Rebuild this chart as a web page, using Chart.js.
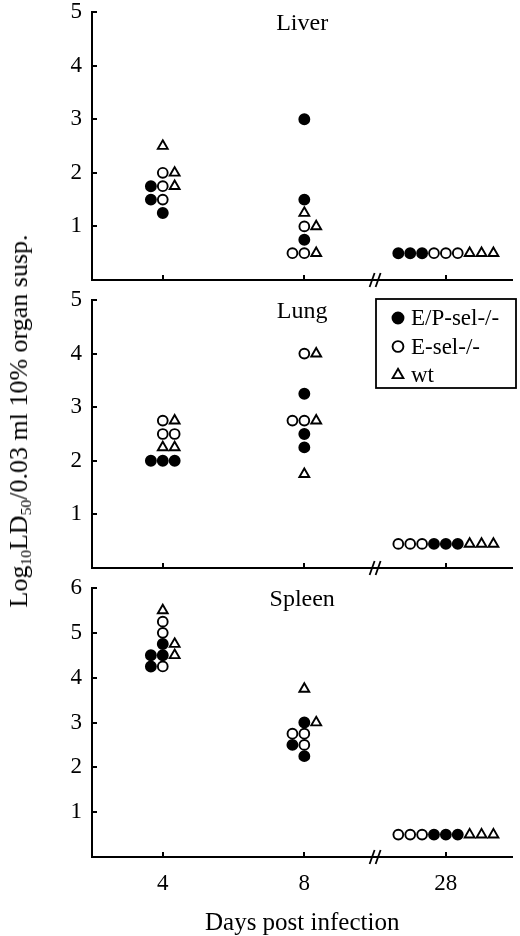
<!DOCTYPE html>
<html>
<head>
<meta charset="utf-8">
<script src="https://cdn.jsdelivr.net/npm/chart.js@4.4.1/dist/chart.umd.min.js"></script>
<style>
  body { margin: 0; background: #fff; width: 520px; height: 936px; overflow: hidden; position: relative; }
  canvas { position: absolute; left: 0; }
  #liver { top: 0; }
  #lung { top: 290px; }
  #spleen { top: 578px; }
  #ytitle {
    position: absolute; left: 19px; top: 421px;
    transform: translate(-50%, -50%) rotate(-90deg);
    white-space: nowrap; color: #000;
    font: 26px "Liberation Serif", serif;
  }
  #ytitle sub { font-size: 60%; line-height: 0; vertical-align: -0.25em; }
</style>
</head>
<body>
<canvas id="liver" width="520" height="290"></canvas>
<canvas id="lung" width="520" height="288"></canvas>
<canvas id="spleen" width="520" height="358"></canvas>
<div id="ytitle">Log<sub>10</sub>LD<sub>50</sub>/0.03 ml 10% organ susp.</div>
<script>
const days = ['4', '8', '28'];
const groups = ['E/P-sel-/-', 'E-sel-/-', 'wt'];
const liverTicks = [0, 1, 2, 3, 4, 5];
const lungTicks = [0, 1, 2, 3, 4, 5];
const spleenTicks = [0, 1, 2, 3, 4, 5, 6];

// one row per mouse: [day index, column in the dot row, log10 LD50]
const liverEP = [[0, -1, 1.75], [0, -1, 1.5], [0, 0, 1.25], [1, 0, 3], [1, 0, 1.5], [1, 0, 0.75], [2, -4, 0.5], [2, -3, 0.5], [2, -2, 0.5]];
const liverE = [[0, 0, 2], [0, 0, 1.75], [0, 0, 1.5], [1, 0, 1], [1, -1, 0.5], [1, 0, 0.5], [2, -1, 0.5], [2, 0, 0.5], [2, 1, 0.5]];
const liverWt = [[0, 0, 2.5], [0, 1, 2], [0, 1, 1.75], [1, 0, 1.25], [1, 1, 1], [1, 1, 0.5], [2, 2, 0.5], [2, 3, 0.5], [2, 4, 0.5]];

const lungEP = [[0, -1, 2], [0, 0, 2], [0, 1, 2], [1, 0, 3.25], [1, 0, 2.5], [1, 0, 2.25], [2, -1, 0.45], [2, 0, 0.45], [2, 1, 0.45]];
const lungE = [[0, 0, 2.75], [0, 0, 2.5], [0, 1, 2.5], [1, 0, 4], [1, -1, 2.75], [1, 0, 2.75], [2, -4, 0.45], [2, -3, 0.45], [2, -2, 0.45]];
const lungWt = [[0, 1, 2.75], [0, 0, 2.25], [0, 1, 2.25], [1, 1, 4], [1, 1, 2.75], [1, 0, 1.75], [2, 2, 0.45], [2, 3, 0.45], [2, 4, 0.45]];

const spleenEP = [[0, 0, 4.75], [0, -1, 4.5], [0, 0, 4.5], [0, -1, 4.25], [1, 0, 3], [1, -1, 2.5], [1, 0, 2.25], [2, -1, 0.5], [2, 0, 0.5], [2, 1, 0.5]];
const spleenE = [[0, 0, 5.25], [0, 0, 5], [0, 0, 4.25], [1, -1, 2.75], [1, 0, 2.75], [1, 0, 2.5], [2, -4, 0.5], [2, -3, 0.5], [2, -2, 0.5]];
const spleenWt = [[0, 0, 5.5], [0, 1, 4.75], [0, 1, 4.5], [1, 0, 3.75], [1, 1, 3], [2, 2, 0.5], [2, 3, 0.5], [2, 4, 0.5]];

const colStep = 0.084;
const serif = '"Liberation Serif", serif';

function toPoints(rows) {
    return rows.map(([d, c, v]) => ({x: d + 1 + c * colStep, y: v}));
}

function makeDatasets(ep, e, wt) {
    const base = {pointBorderColor: '#000', borderColor: '#000', pointBorderWidth: 1.9};
    return [
        {...base, label: groups[0], data: toPoints(ep), pointStyle: 'circle', pointRadius: 5, pointBackgroundColor: '#000', backgroundColor: '#000'},
        {...base, label: groups[1], data: toPoints(e), pointStyle: 'circle', pointRadius: 4.9, pointBackgroundColor: '#fff', backgroundColor: '#fff'},
        {...base, label: groups[2], data: toPoints(wt), pointStyle: 'triangle', pointRadius: 5.7, pointBackgroundColor: '#fff', backgroundColor: '#fff'}
    ];
}

// small tick marks pointing into the plot
const innerTicks = {
    id: 'innerTicks',
    afterDraw(chart) {
        const {ctx, chartArea: a, scales: {x, y}} = chart;
        ctx.save();
        ctx.strokeStyle = '#000';
        ctx.lineWidth = 2;
        ctx.beginPath();
        x.ticks.forEach(t => {
            const px = Math.round(x.getPixelForValue(t.value));
            ctx.moveTo(px, a.bottom);
            ctx.lineTo(px, a.bottom - 5);
        });
        y.ticks.forEach(t => {
            if (t.value === 0) return;
            const py = Math.round(y.getPixelForValue(t.value));
            ctx.moveTo(a.left, py);
            ctx.lineTo(a.left + 5, py);
        });
        ctx.stroke();
        ctx.restore();
    }
};

// the "//" between day 8 and day 28
const axisBreak = {
    id: 'axisBreak',
    afterDraw(chart) {
        const {ctx, chartArea: a, scales: {x}} = chart;
        const px = x.getPixelForValue(2.5);
        ctx.save();
        ctx.strokeStyle = '#000';
        ctx.lineWidth = 1.8;
        [-3, 3].forEach(dx => {
            ctx.beginPath();
            ctx.moveTo(px + dx - 2.5, a.bottom + 7);
            ctx.lineTo(px + dx + 2.5, a.bottom - 7);
            ctx.stroke();
        });
        ctx.restore();
    }
};

const panelTitle = {
    id: 'panelTitle',
    afterDraw(chart, args, opts) {
        const {ctx, chartArea: a} = chart;
        ctx.save();
        ctx.font = '24px ' + serif;
        ctx.fillStyle = '#000';
        ctx.textAlign = 'center';
        ctx.textBaseline = 'middle';
        ctx.fillText(opts.text, (a.left + a.right) / 2, a.top + 12);
        ctx.restore();
    }
};

// boxed legend inside the lung panel
const boxLegend = {
    id: 'boxLegend',
    afterDraw(chart, args, opts) {
        if (!opts.show) return;
        const {ctx, chartArea: a} = chart;
        const left = a.left + 284, top = a.top - 1, w = 140, h = 89;
        ctx.save();
        ctx.strokeStyle = '#000';
        ctx.lineWidth = 1.8;
        ctx.strokeRect(left, top, w, h);
        ctx.font = '23px ' + serif;
        ctx.textBaseline = 'middle';
        chart.data.datasets.forEach((ds, i) => {
            const yy = top + 19 + i * 28.5;
            ctx.fillStyle = ds.pointBackgroundColor;
            ctx.strokeStyle = ds.pointBorderColor;
            ctx.lineWidth = ds.pointBorderWidth;
            Chart.helpers.drawPoint(ctx, {pointStyle: ds.pointStyle, radius: ds.pointRadius + 0.5, rotation: 0, borderWidth: ds.pointBorderWidth}, left + 22, yy);
            ctx.fillStyle = '#000';
            ctx.fillText(ds.label, left + 35, yy + 1);
        });
        ctx.restore();
    }
};

function makePanel(id, title, yTicks, sets, cfg) {
    return new Chart(document.getElementById(id), {
        type: 'scatter',
        data: {datasets: makeDatasets(...sets)},
        options: {
            responsive: false,
            animation: false,
            events: [],
            clip: false,
            layout: {padding: {left: 0, right: 7, top: cfg.top, bottom: 0}},
            plugins: {
                legend: {display: false},
                tooltip: {enabled: false},
                panelTitle: {text: title},
                boxLegend: {show: !!cfg.legend}
            },
            scales: {
                x: {
                    type: 'linear',
                    min: 0.5,
                    max: 3.47,
                    afterBuildTicks: s => { s.ticks = days.map((d, i) => ({value: i + 1})); },
                    afterFit: s => { s.height = cfg.xh; s.paddingLeft = 0; s.paddingRight = 0; },
                    grid: {display: false, drawTicks: false},
                    border: {display: true, color: '#000', width: 2},
                    ticks: {
                        display: !!cfg.labels,
                        callback: v => days[v - 1],
                        font: {family: serif, size: 23},
                        color: '#000',
                        padding: 13,
                        maxRotation: 0,
                        autoSkip: false
                    },
                    title: {
                        display: !!cfg.labels,
                        text: 'Days post infection',
                        font: {family: serif, size: 25},
                        color: '#000',
                        padding: {top: 0, bottom: -2}
                    }
                },
                y: {
                    min: 0,
                    max: yTicks[yTicks.length - 1],
                    afterBuildTicks: s => { s.ticks = yTicks.map(v => ({value: v})); },
                    afterFit: s => { s.width = 92; s.paddingTop = 0; s.paddingBottom = 0; },
                    grid: {display: false, drawTicks: false},
                    border: {display: true, color: '#000', width: 2},
                    ticks: {
                        callback: v => v === 0 ? '' : v,
                        font: {family: serif, size: 23},
                        color: '#000',
                        padding: 10
                    }
                }
            }
        },
        plugins: [innerTicks, axisBreak, panelTitle, boxLegend]
    });
}

makePanel('liver', 'Liver', liverTicks, [liverEP, liverE, liverWt], {top: 12, xh: 10});
makePanel('lung', 'Lung', lungTicks, [lungEP, lungE, lungWt], {top: 10, xh: 10, legend: true});
makePanel('spleen', 'Spleen', spleenTicks, [spleenEP, spleenE, spleenWt], {top: 10, xh: 79, labels: true});
</script>
</body>
</html>
